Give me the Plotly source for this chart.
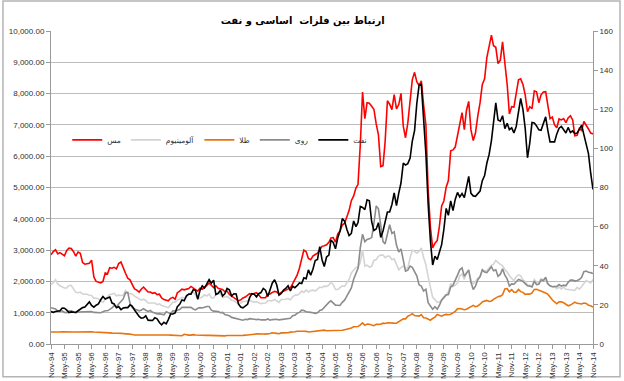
import pandas as pd
import plotly.graph_objects as go

# Monthly observations, Nov-1994 .. Nov-2014
start_month = "1994-11-01"
n_months = 241
months = pd.date_range(start_month, periods=n_months, freq="MS")

title_text = "ارتباط بین فلزات  اساسی و نفت"
names = ["مس", "آلومینیوم", "طلا", "روی", "نفت"]

copper = [
    2850, 2950,
    3010, 2880, 2920, 2870, 2820, 2990, 3060, 3050, 2950, 2810, 2940, 2900,
    2600, 2550, 2570, 2580, 2680, 2140, 2000, 1980, 1950, 2000, 2270, 2240,
    2440, 2420, 2450, 2400, 2570, 2620, 2420, 2260, 2100, 2050, 1900, 1760,
    1720, 1660, 1750, 1820, 1740, 1660, 1660, 1620, 1640, 1580, 1590, 1470,
    1420, 1410, 1380, 1460, 1490, 1430, 1640, 1690, 1750, 1730, 1750, 1770,
    1840, 1800, 1740, 1690, 1780, 1750, 1800, 1870, 1950, 1880, 1800, 1860,
    1780, 1760, 1740, 1670, 1690, 1580, 1530, 1460, 1420, 1380, 1410, 1470,
    1500, 1560, 1610, 1590, 1610, 1640, 1570, 1480, 1480, 1480, 1590, 1600,
    1650, 1680, 1660, 1590, 1650, 1690, 1710, 1760, 1790, 1920, 2060, 2200,
    2420, 2740, 3000, 2950, 2730, 2690, 2810, 2860, 2900, 3010, 3120, 3140,
    3170, 3250, 3390, 3400, 3250, 3520, 3610, 3800, 3860, 4060, 4270, 4580,
    4730, 4980, 5100, 6380, 8050, 7200, 7710, 7690, 7600, 7500, 7030, 6680,
    5670, 5700, 6450, 7770, 7660, 7490, 7970, 7510, 7650, 8010, 6960, 6590,
    7060, 7890, 8440, 8680, 8380, 8260, 8410, 7630, 6990, 4930, 3720, 3070,
    3220, 3310, 3750, 4410, 4570, 5010, 5220, 6170, 6200, 6290, 6680, 6980,
    7390, 6850, 7460, 7750, 6840, 6500, 6740, 7280, 7710, 8290, 8470, 9150,
    9560, 9870, 9530, 9480, 8960, 9070, 9650, 9040, 8300, 7350, 7580, 7570,
    8040, 8440, 8470, 8290, 7960, 7420, 7580, 7520, 8090, 8060, 7710, 7960,
    8050, 8060, 7650, 7200, 7250, 7000, 6910, 7190, 7160, 7200, 7070, 7220,
    7290, 7150, 6650, 6670, 6890, 6820, 7110, 7000, 6870, 6740, 6710,
]

aluminium = [
    1900, 1950,
    2050, 1920, 1860, 1830, 1790, 1790, 1870, 1870, 1760, 1650, 1640, 1660,
    1600, 1600, 1590, 1560, 1550, 1460, 1470, 1440, 1380, 1330, 1430, 1500,
    1580, 1600, 1620, 1540, 1560, 1550, 1560, 1710, 1620, 1610, 1590, 1530,
    1480, 1440, 1400, 1430, 1390, 1310, 1310, 1290, 1310, 1260, 1280, 1230,
    1210, 1170, 1160, 1250, 1340, 1330, 1410, 1430, 1490, 1480, 1510, 1570,
    1660, 1660, 1550, 1460, 1470, 1500, 1570, 1530, 1600, 1480, 1470, 1580,
    1610, 1600, 1480, 1490, 1520, 1470, 1400, 1380, 1340, 1280, 1310, 1360,
    1360, 1370, 1400, 1360, 1340, 1350, 1330, 1290, 1300, 1310, 1380, 1370,
    1380, 1420, 1380, 1330, 1420, 1420, 1430, 1460, 1410, 1510, 1560, 1560,
    1610, 1690, 1650, 1730, 1660, 1710, 1720, 1690, 1760, 1820, 1800, 1850,
    1840, 1880, 1980, 1890, 1740, 1740, 1800, 1860, 1840, 1930, 2060, 2270,
    2380, 2450, 2430, 2620, 3000, 2490, 2520, 2460, 2480, 2670, 2700, 2800,
    2840, 2840, 2760, 2810, 2800, 2690, 2720, 2510, 2370, 2440, 2490, 2400,
    2440, 2750, 3000, 2960, 2900, 2960, 3070, 2760, 2530, 2150, 1850, 1490,
    1420, 1330, 1340, 1420, 1460, 1580, 1670, 1930, 1830, 1880, 1950, 2180,
    2230, 2060, 2280, 2320, 2040, 1930, 1990, 2110, 2160, 2350, 2330, 2350,
    2440, 2510, 2550, 2670, 2600, 2550, 2500, 2380, 2300, 2180, 2080, 2020,
    2150, 2210, 2180, 2050, 2000, 1890, 1880, 1840, 2060, 1980, 1950, 2090,
    2040, 2050, 1910, 1860, 1830, 1840, 1770, 1820, 1760, 1820, 1750, 1740,
    1730, 1700, 1710, 1810, 1750, 1840, 1950, 2030, 1990, 1950, 2060,
]

gold = [
    384, 379,
    379, 377, 382, 391, 385, 387, 386, 383, 383, 383, 386, 387,
    400, 405, 396, 393, 392, 385, 383, 387, 383, 381, 378, 369,
    355, 347, 352, 344, 344, 341, 324, 324, 323, 325, 306, 289,
    289, 297, 296, 308, 299, 292, 293, 284, 289, 296, 294, 291,
    287, 288, 286, 282, 277, 262, 256, 257, 265, 311, 293, 284,
    285, 300, 286, 280, 275, 286, 282, 275, 274, 270, 266, 272,
    266, 262, 263, 261, 272, 270, 268, 273, 284, 283, 276, 276,
    282, 296, 294, 302, 314, 322, 314, 310, 319, 317, 319, 333,
    357, 359, 340, 328, 355, 356, 351, 360, 379, 379, 389, 407,
    414, 405, 406, 404, 384, 392, 398, 401, 406, 420, 439, 442,
    424, 424, 434, 429, 422, 430, 424, 438, 456, 470, 476, 510,
    550, 555, 557, 611, 676, 596, 634, 632, 598, 586, 628, 629,
    631, 665, 655, 679, 667, 655, 666, 665, 713, 754, 806, 803,
    889, 922, 968, 909, 888, 890, 939, 839, 830, 806, 760, 816,
    858, 943, 925, 890, 928, 946, 934, 949, 996, 1043, 1127, 1135,
    1118, 1095, 1113, 1148, 1205, 1233, 1193, 1215, 1271, 1343, 1370, 1392,
    1360, 1374, 1424, 1474, 1512, 1529, 1573, 1756, 1772, 1666, 1739, 1652,
    1656, 1742, 1673, 1650, 1585, 1596, 1594, 1630, 1744, 1747, 1722, 1685,
    1671, 1627, 1593, 1487, 1414, 1343, 1286, 1347, 1348, 1316, 1275, 1221,
    1244, 1300, 1336, 1299, 1287, 1279, 1311, 1296, 1239, 1223, 1176,
]

zinc = [
    1160, 1130,
    1120, 1050, 1040, 1060, 1010, 1000, 1050, 1060, 1030, 1000, 1020, 1020,
    1020, 1040, 1040, 1040, 1040, 1010, 1000, 990, 1000, 1030, 1060, 1060,
    1100, 1150, 1230, 1190, 1280, 1350, 1440, 1640, 1650, 1300, 1160, 1120,
    1100, 1060, 1080, 1130, 1080, 1040, 1070, 1010, 990, 960, 970, 950,
    930, 1030, 990, 970, 1060, 1050, 1080, 1100, 1170, 1160, 1170, 1170,
    1170, 1120, 1090, 1140, 1160, 1150, 1180, 1200, 1200, 1080, 1050, 1050,
    1040, 1000, 1010, 940, 930, 900, 850, 830, 820, 780, 780, 760,
    790, 780, 810, 790, 790, 780, 790, 770, 760, 770, 800, 760,
    780, 790, 790, 770, 780, 790, 820, 810, 820, 900, 920, 980,
    1010, 1080, 1070, 1030, 1010, 1010, 1000, 980, 1000, 1070, 1090, 1180,
    1240, 1330, 1380, 1310, 1240, 1240, 1230, 1330, 1400, 1530, 1650, 1790,
    2070, 2230, 2420, 3080, 3510, 3270, 3340, 3360, 3400, 3850, 4410, 4320,
    3830, 3270, 3200, 3540, 3810, 3530, 3580, 3160, 2940, 3040, 2610, 2330,
    2360, 2490, 2450, 2290, 2180, 1890, 1850, 1690, 1750, 1320, 1190, 1110,
    1190, 1110, 1230, 1400, 1490, 1570, 1580, 1820, 1880, 2070, 2200, 2370,
    2430, 2160, 2270, 2370, 1970, 1740, 1850, 2050, 2150, 2370, 2300, 2280,
    2370, 2470, 2340, 2370, 2160, 2230, 2400, 2200, 2080, 1850, 1920, 1910,
    1990, 2060, 2040, 2000, 1930, 1860, 1850, 1820, 2010, 1900, 1910, 2050,
    2030, 2130, 1930, 1860, 1830, 1840, 1840, 1900, 1850, 1880, 1860, 1970,
    2040, 2040, 2010, 2030, 2060, 2130, 2310, 2330, 2290, 2280, 2250,
]

oil = [
    16.6, 16.2,
    16.6, 17.0, 17.0, 18.4, 18.3, 17.3, 16.1, 16.4, 16.3, 16.1, 17.0, 17.9,
    18.6, 18.9, 20.3, 21.5, 19.7, 18.8, 19.8, 20.5, 22.6, 24.3, 23.0, 23.6,
    24.0, 20.9, 20.5, 18.5, 19.1, 17.6, 18.4, 18.6, 18.6, 20.0, 19.2, 17.4,
    15.5, 14.1, 13.2, 13.4, 14.4, 12.2, 12.1, 12.0, 13.4, 12.9, 11.0, 9.8,
    11.1, 10.3, 12.5, 15.3, 15.3, 15.9, 19.1, 20.3, 22.5, 22.1, 24.6, 25.5,
    25.5, 27.8, 27.5, 22.8, 27.4, 29.7, 28.6, 30.4, 32.9, 31.1, 32.6, 25.3,
    25.9, 27.5, 24.5, 25.7, 28.4, 27.7, 24.5, 25.7, 25.6, 20.5, 18.9, 18.5,
    19.4, 20.3, 23.7, 25.7, 25.4, 24.1, 25.7, 26.3, 28.4, 27.5, 24.3, 28.3,
    31.2, 32.8, 30.3, 25.0, 25.8, 27.6, 28.4, 29.8, 27.1, 29.6, 28.8, 29.8,
    31.2, 30.9, 33.8, 33.4, 37.9, 35.2, 38.2, 42.7, 43.2, 49.8, 43.1, 39.6,
    44.5, 45.5, 53.1, 51.9, 48.7, 54.3, 57.6, 64.1, 62.8, 58.7, 55.4, 56.5,
    62.9, 60.0, 62.1, 70.3, 69.8, 68.7, 73.7, 73.2, 62.5, 58.0, 58.8, 62.0,
    54.5, 57.8, 62.1, 67.5, 67.5, 71.3, 77.2, 70.8, 77.1, 82.3, 92.5, 91.5,
    92.2, 95.0, 103.6, 109.1, 122.8, 132.3, 132.7, 113.2, 97.2, 71.6, 52.5, 40.4,
    44.9, 43.2, 46.8, 50.8, 58.6, 69.3, 65.8, 73.1, 68.2, 73.9, 77.5, 75.2,
    76.9, 74.8, 79.9, 85.7, 77.0, 75.7, 75.5, 77.1, 78.2, 83.5, 86.1, 92.4,
    96.9, 104.0, 114.6, 123.3, 114.5, 113.9, 116.7, 110.1, 112.8, 109.6, 110.5, 107.9,
    111.2, 119.7, 125.5, 119.8, 110.3, 95.2, 102.6, 113.2, 113.0, 111.5, 109.5, 109.2,
    112.3, 116.1, 109.5, 103.3, 103.3, 103.3, 107.4, 110.3, 111.2, 109.5, 107.9, 110.7,
    108.1, 108.9, 107.5, 107.8, 109.5, 111.9, 107.0, 101.9, 97.3, 87.3, 79.0,
]

for s in (copper, aluminium, gold, zinc, oil):
    assert len(s) == n_months, len(s)

colors = ["#ff0000", "#d4d4d4", "#e8740f", "#8c8c8c", "#000000"]
series = [copper, aluminium, gold, zinc, oil]
axes = ["y", "y", "y", "y", "y2"]

fig = go.Figure()
for name, vals, col, ax in zip(names, series, colors, axes):
    fig.add_trace(go.Scatter(
        x=months, y=vals, name=name, mode="lines", yaxis=ax,
        line=dict(color=col, width=1.6),
    ))

tick_font = dict(family="Liberation Sans, Arial, sans-serif", size=8, color="#303030")
grid_col = "#bcbcbc"
axis_col = "#9a9a9a"

fig.update_layout(
    width=624, height=381,
    margin=dict(l=51, r=31, t=31, b=37),
    paper_bgcolor="white", plot_bgcolor="white",
    showlegend=True,
    title=dict(
        text="<b>" + title_text + "</b>",
        x=0.485, xref="container", xanchor="center",
        y=0.947, yref="container", yanchor="middle",
        font=dict(family="DejaVu Sans, sans-serif", size=10, color="#000000"),
    ),
    legend=dict(
        orientation="h", x=0.03, y=0.652, xanchor="left", yanchor="middle",
        font=dict(family="DejaVu Sans, sans-serif", size=7.5, color="#303030"),
        bgcolor="rgba(0,0,0,0)", itemwidth=30, tracegroupgap=0,
    ),
    xaxis=dict(
        type="date", range=[months[0], months[-1]],
        tick0=start_month, dtick="M6", tickformat="%b-%y", tickangle=-90,
        showgrid=False, showline=True, linecolor=axis_col, linewidth=1,
        ticks="outside", ticklen=4, tickcolor=axis_col,
        tickfont=tick_font, automargin=False,
    ),
    yaxis=dict(
        range=[0, 10000], dtick=1000, tickformat=",.2f",
        showgrid=True, gridcolor=grid_col, gridwidth=1,
        showline=True, linecolor=axis_col, linewidth=1,
        ticks="outside", ticklen=4, tickcolor=axis_col,
        tickfont=tick_font, automargin=False, zeroline=False,
    ),
    yaxis2=dict(
        range=[0, 160], dtick=20, overlaying="y", side="right",
        showgrid=False, showline=True, linecolor=axis_col, linewidth=1,
        ticks="outside", ticklen=4, tickcolor=axis_col,
        tickfont=tick_font, automargin=False, zeroline=False,
    ),
    shapes=[dict(
        type="rect", xref="paper", yref="paper",
        x0=-0.0886, x1=1.0498, y0=-0.105, y1=1.0958,
        line=dict(color="#b4b4b4", width=1.5), fillcolor="rgba(0,0,0,0)",
        layer="below",
    )],
)

fig.write_html(
    "out.html",
    include_plotlyjs=True,
    config={"displayModeBar": False},
    post_script="document.body.style.margin='0';document.body.style.padding='0';",
)
